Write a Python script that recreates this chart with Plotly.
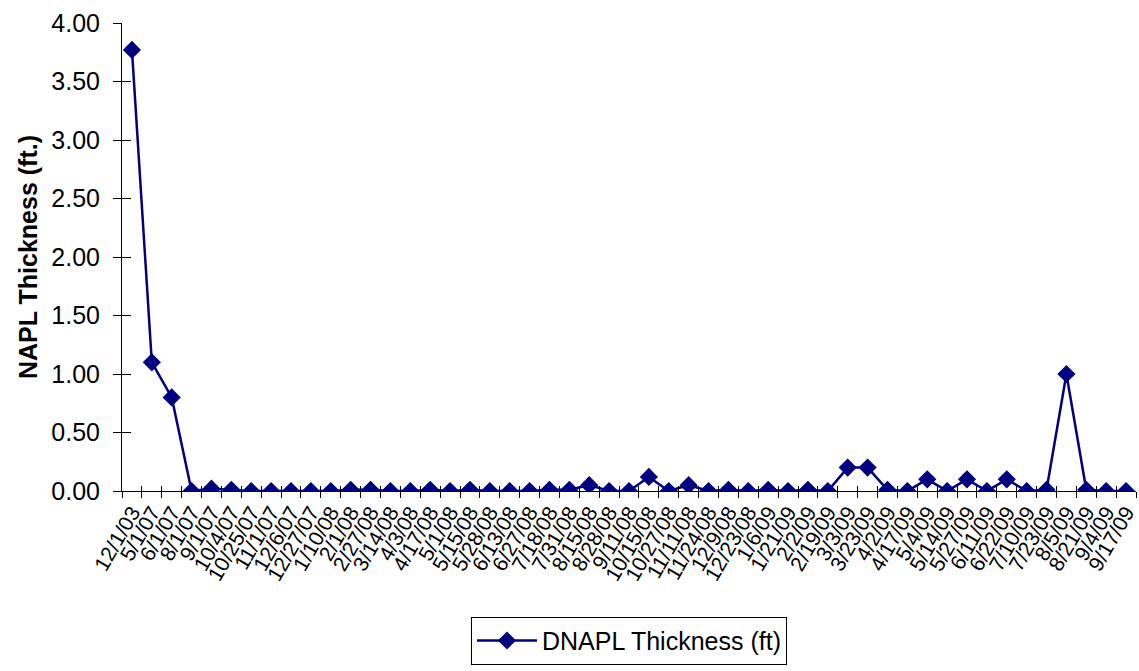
import plotly.graph_objects as go

dates = ["12/1/03", "5/1/07", "6/1/07", "8/1/07", "9/1/07", "10/4/07", "10/25/07", "11/1/07",
         "12/6/07", "12/27/07", "1/10/08", "2/1/08", "2/27/08", "3/14/08", "4/3/08", "4/17/08",
         "5/1/08", "5/15/08", "5/28/08", "6/13/08", "6/27/08", "7/18/08", "7/31/08", "8/15/08",
         "8/28/08", "9/11/08", "10/15/08", "10/27/08", "11/11/08", "11/24/08", "12/9/08", "12/23/08",
         "1/6/09", "1/21/09", "2/2/09", "2/19/09", "3/3/09", "3/23/09", "4/2/09", "4/17/09",
         "5/4/09", "5/14/09", "5/27/09", "6/11/09", "6/22/09", "7/10/09", "7/23/09", "8/5/09",
         "8/21/09", "9/4/09", "9/17/09"]

dnapl_thickness = [3.77, 1.10, 0.80, 0.00, 0.02, 0.01, 0.00, 0.00,
                   0.00, 0.00, 0.00, 0.01, 0.01, 0.00, 0.00, 0.01,
                   0.00, 0.01, 0.00, 0.00, 0.00, 0.01, 0.01, 0.05,
                   0.00, 0.00, 0.12, 0.00, 0.05, 0.00, 0.01, 0.00,
                   0.01, 0.00, 0.01, 0.00, 0.20, 0.20, 0.01, 0.00,
                   0.10, 0.00, 0.10, 0.00, 0.10, 0.00, 0.01, 1.00,
                   0.01, 0.00, 0.00]

y_ticks = [0, 0.5, 1.0, 1.5, 2.0, 2.5, 3.0, 3.5, 4.0]

NAVY = "#000080"
FONT = "Liberation Sans, Arial, sans-serif"

fig = go.Figure()
fig.add_trace(go.Scatter(
    x=dates, y=dnapl_thickness, mode="lines+markers",
    name="DNAPL Thickness (ft)",
    line=dict(color=NAVY, width=2.5),
    marker=dict(symbol="diamond", size=14, color=NAVY),
))
# empty helper trace so the overlay axes (inner half of crossing ticks) are drawn
fig.add_trace(go.Scatter(x=[], y=[], xaxis="x2", yaxis="y2", showlegend=False, hoverinfo="skip"))

n = len(dates)
fig.update_layout(
    width=1139, height=671,
    margin=dict(l=122, r=0, t=23, b=180),
    paper_bgcolor="white", plot_bgcolor="white",
    font=dict(family=FONT, color="black"),
    showlegend=True,
    legend=dict(
        x=0.5, y=-0.32, xanchor="center", yanchor="middle",
        orientation="h", bordercolor="black", borderwidth=1,
        font=dict(size=25, family=FONT), itemwidth=60,
        bgcolor="white",
    ),
    xaxis=dict(
        type="category", categoryorder="array", categoryarray=dates,
        tickmode="array", tickvals=dates, ticktext=dates,
        range=[-0.5, n - 0.5],
        showline=True, linecolor="black", linewidth=1,
        ticks="outside", ticklen=6, tickcolor="black", tickson="boundaries",
        tickangle=-60, tickfont=dict(size=21, family=FONT),
        showgrid=False, zeroline=False,
    ),
    yaxis=dict(
        range=[0, 4], tickvals=y_ticks, tickformat=".2f",
        showline=True, linecolor="black", linewidth=1,
        ticks="outside", ticklen=8, tickcolor="black",
        tickfont=dict(size=25, family=FONT), ticklabelstandoff=8,
        title=dict(text="<b>NAPL Thickness (ft.)</b>", font=dict(size=25, family=FONT), standoff=6),
        showgrid=False, zeroline=False,
    ),
    xaxis2=dict(
        overlaying="x", range=[-0.5, n - 0.5], tick0=-0.5, dtick=1,
        ticks="inside", ticklen=5, tickcolor="black", showticklabels=False,
        showgrid=False, zeroline=False, showline=False,
    ),
    yaxis2=dict(
        overlaying="y", range=[0, 4], tickvals=y_ticks,
        ticks="inside", ticklen=9, tickcolor="black", showticklabels=False,
        showgrid=False, zeroline=False, showline=False,
    ),
)

fig.write_html("out.html")
